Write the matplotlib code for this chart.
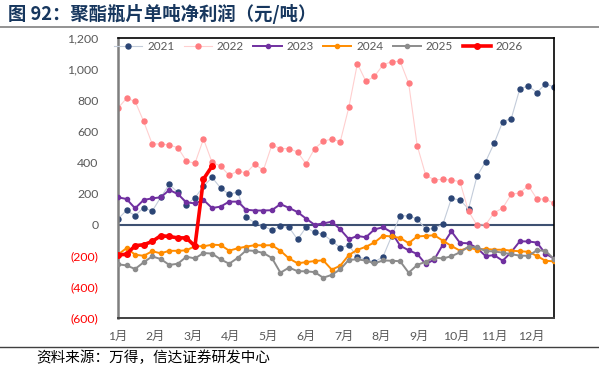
import numpy as np
import matplotlib.pyplot as plt
from matplotlib.lines import Line2D

plt.rcParams['font.family'] = ['Lato', 'Noto Sans CJK SC', 'DejaVu Sans']

# 数据（按周，52周）
months = ['1月', '2月', '3月', '4月', '5月', '6月', '7月', '8月', '9月', '10月', '11月', '12月']
years = ['2021', '2022', '2023', '2024', '2025', '2026']

y2021 = [37, 92, 58, 109, 87, 176, 259, 207, 127, 173, 246, 304, 236, 195, 210, 49,
         12, -10, -34, -10, -17, -95, -17, -50, -61, -105, -148, -133, -208, -221, -240, -206,
         -75, 58, 56, 37, -30, -24, 2, 169, 159, 101, 313, 405, 523, 662, 682, 873, 892, 849, 905, 885]
y2022 = [750, 812, 793, 664, 519, 519, 512, 495, 409, 394, 551, 401, 377, 317, 345, 332,
         390, 349, 512, 489, 489, 467, 390, 489, 536, 551, 534, 754, 1035, 921, 954, 1027,
         1048, 1050, 909, 508, 317, 289, 291, 287, 276, 86, -4, 0, 77, 107, 195, 204, 251, 165, 165, 137]
y2023 = [176, 165, 105, 159, 169, 176, 223, 197, 143, 137, 159, 107, 116, 148, 148, 96,
         91, 91, 93, 132, 108, 81, 39, -1, 8, 19, -30, -93, -73, -81, -30, -17,
         -49, -135, -165, -188, -254, -224, -128, -43, -117, -120, -150, -202, -196, -232, -176, -107, -108, -115, -186, -218]
y2024 = [-192, -151, -193, -200, -171, -184, -168, -168, -165, -138, -139, -129, -131, -167, -152, -141,
         -132, -133, -132, -168, -217, -248, -241, -234, -229, -289, -264, -195, -162, -142, -114, -71,
         -76, -85, -119, -76, -72, -68, -103, -137, -167, -147, -161, -156, -161, -161, -167, -171, -174, -201, -232, -236]
y2025 = [-255, -262, -285, -242, -204, -221, -259, -251, -206, -217, -182, -186, -223, -251, -214, -165,
         -169, -182, -214, -309, -276, -299, -300, -305, -341, -323, -287, -226, -223, -231, -249, -230,
         -232, -235, -309, -259, -238, -212, -217, -203, -178, -142, -145, -170, -172, -180, -190, -199, -200, -165, -168, -221]
y2026 = [-195, -190, -135, -129, -108, -71, -76, -85, -85, -138, 293, 376]

fig = plt.figure(figsize=(5.99, 3.70), dpi=100)
ax = fig.add_axes([118 / 599, 1 - 318 / 370, 436 / 599, 280 / 370])

ax.axhline(0, color='#3E5172', lw=1.5, zorder=1)

ax.plot(range(len(y2021)), y2021, color='#C3CCDA', lw=0.8, marker='o', ms=3.6,
        mfc='#2B4575', mec='#2B4575', label='2021', zorder=2)
ax.plot(range(len(y2022)), y2022, color='#FFCFCF', lw=0.8, marker='o', ms=3.6,
        mfc='#FF7C80', mec='#FF7C80', label='2022', zorder=2)
ax.plot(range(len(y2023)), y2023, color='#7030A0', lw=1.4, marker='o', ms=3,
        label='2023', zorder=3)
ax.plot(range(len(y2024)), y2024, color='#FF8C00', lw=1.4, marker='o', ms=3,
        label='2024', zorder=3)
ax.plot(range(len(y2025)), y2025, color='#8C8C8C', lw=1.4, marker='o', ms=3,
        label='2025', zorder=3)
ax.plot(range(len(y2026)), y2026, color='#FF0000', lw=2.6, marker='o', ms=4,
        label='2026', zorder=4)

ax.set_xlim(0, 51)
ax.set_ylim(-600, 1200)

yt = list(range(-600, 1201, 200))
ax.set_yticks(yt)
ylabels = ['({:,})'.format(-v) if v < 0 else '{:,}'.format(v) for v in yt]
ax.set_yticklabels(ylabels)
for lab, v in zip(ax.get_yticklabels(), yt):
    lab.set_color('#FF0000' if v < 0 else '#595959')
ax.tick_params(axis='y', length=0, pad=14, labelsize=8.8)

ax.set_xticks([i * 4.4 for i in range(12)])
ax.set_xticklabels(months)
ax.tick_params(axis='x', length=0, pad=9, labelsize=8.8, labelcolor='#595959')

for s in ['top', 'right']:
    ax.spines[s].set_color('black')
    ax.spines[s].set_linewidth(1.2)
ax.spines['left'].set_color('#7F7F7F')
ax.spines['left'].set_linewidth(1.8)
ax.spines['bottom'].set_color('#404040')
ax.spines['bottom'].set_linewidth(1.4)

leg = ax.legend(loc='center left', bbox_to_anchor=(-0.02, 0.968), ncol=6, frameon=False,
                fontsize=8.5, handlelength=2.4, handletextpad=0.4, columnspacing=0.8,
                borderaxespad=0)
for t in leg.get_texts():
    t.set_color('#595959')

# 标题与来源
fig.text(0.013, 0.962, '图 92：聚酯瓶片单吨净利润（元/吨）', fontsize=13.2, fontweight='bold',
         color='#17375E', family=['Noto Sans CJK SC', 'DejaVu Sans'], va='center')
fig.add_artist(Line2D([0, 1], [1 - 27 / 370, 1 - 27 / 370], transform=fig.transFigure,
                      color='#808080', lw=1.2))
fig.add_artist(Line2D([0, 1], [1 - 347 / 370, 1 - 347 / 370], transform=fig.transFigure,
                      color='#404040', lw=1.0))
fig.text(0.06, 1 - 358 / 370, '资料来源：万得，信达证券研发中心', fontsize=10.5,
         color='black', family=['Noto Sans CJK SC', 'DejaVu Sans'], va='center')

fig.savefig('out.png', dpi=100)
